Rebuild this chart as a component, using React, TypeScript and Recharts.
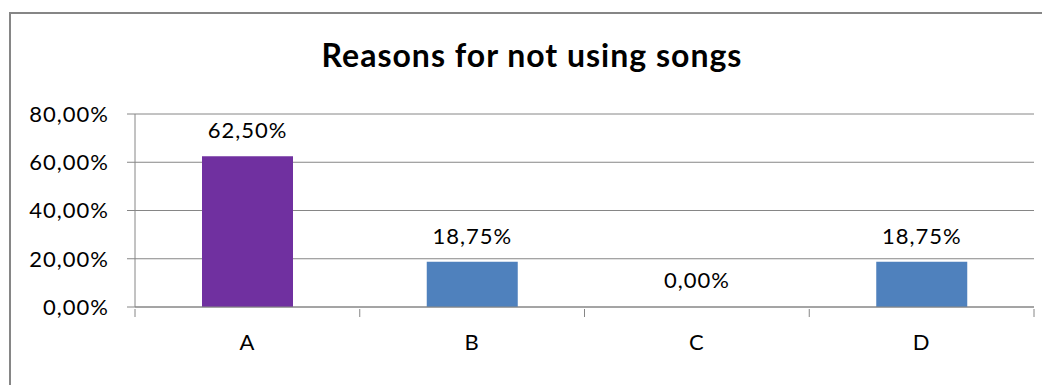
import { BarChart, Bar, XAxis, YAxis, CartesianGrid, Cell, LabelList } from 'recharts';

const categories = ['A', 'B', 'C', 'D'];
const shares = [62.5, 18.75, 0, 18.75];
const yTicks = [0, 20, 40, 60, 80];

const data = categories.map((name, i) => ({ name, value: shares[i] }));

const barColors = ['#7030A0', '#4F81BD', '#4F81BD', '#4F81BD'];
const axisColor = '#868686';
const font = 'Lato, "Open Sans", sans-serif';

const pct = (v: number) => v.toFixed(2).replace('.', ',') + '%';

// category labels, plus the small boundary ticks between categories
function CategoryTick(props: any) {
    const { x, y, payload, index, visibleTicksCount } = props;
    const half = payload?.offset || 899 / 8;
    return (
        <g>
            <line x1={x - half} y1={y} x2={x - half} y2={y + 8} stroke={axisColor} />
            {index === visibleTicksCount - 1 && (
                <line x1={x + half} y1={y} x2={x + half} y2={y + 8} stroke={axisColor} />
            )}
            <text x={x} y={y + 41} textAnchor="middle" fill="#000" fontSize={22} letterSpacing={1} fontFamily={font}>
                {payload.value}
            </text>
        </g>
    );
}

// value label above each bar
function ValueLabel(props: any) {
    const { x, y, width, value } = props;
    return (
        <text x={x + width / 2} y={y - 18} textAnchor="middle" fill="#000" fontSize={22} letterSpacing={1} fontFamily={font}>
            {pct(Number(value))}
        </text>
    );
}

export default function App() {
    return (
        <div style={{ position: 'absolute', left: 0, top: 0, width: 1042, height: 385, background: '#fff', overflow: 'hidden' }}>
            <div
                style={{
                    position: 'absolute',
                    left: 9,
                    top: 12,
                    width: 1100,
                    height: 400,
                    border: `2px solid ${axisColor}`,
                    boxSizing: 'border-box',
                }}
            />
            <div
                style={{
                    position: 'absolute',
                    left: 0,
                    width: 1064,
                    top: 35,
                    textAlign: 'center',
                    fontFamily: font,
                    fontWeight: 'bold',
                    fontSize: 32,
                    letterSpacing: 1,
                }}
            >
                Reasons for not using songs
            </div>
            <div style={{ position: 'absolute', left: 0, top: 0 }}>
                <BarChart width={1042} height={385} data={data} margin={{ top: 114, right: 8, bottom: 0, left: 0 }}>
                    <CartesianGrid vertical={false} stroke={axisColor} />
                    <XAxis
                        dataKey="name"
                        axisLine={{ stroke: axisColor }}
                        tickLine={false}
                        tick={<CategoryTick />}
                        tickSize={0}
                        height={78}
                    />
                    <YAxis
                        width={135}
                        domain={[0, 80]}
                        ticks={yTicks}
                        interval={0}
                        tickFormatter={pct}
                        axisLine={{ stroke: axisColor }}
                        tickLine={{ stroke: axisColor }}
                        tickSize={8}
                        tickMargin={18}
                        tick={{ fill: '#000', fontSize: 22, letterSpacing: 1, fontFamily: font }}
                    />
                    {/* minPointSize keeps the zero bar in the layout so its label is drawn */}
                    <Bar dataKey="value" barSize={91} minPointSize={1} isAnimationActive={false}>
                        {data.map((d, i) => (
                            <Cell key={d.name} fill={d.value === 0 ? 'transparent' : barColors[i]} />
                        ))}
                        <LabelList dataKey="value" content={<ValueLabel />} />
                    </Bar>
                </BarChart>
            </div>
        </div>
    );
}
